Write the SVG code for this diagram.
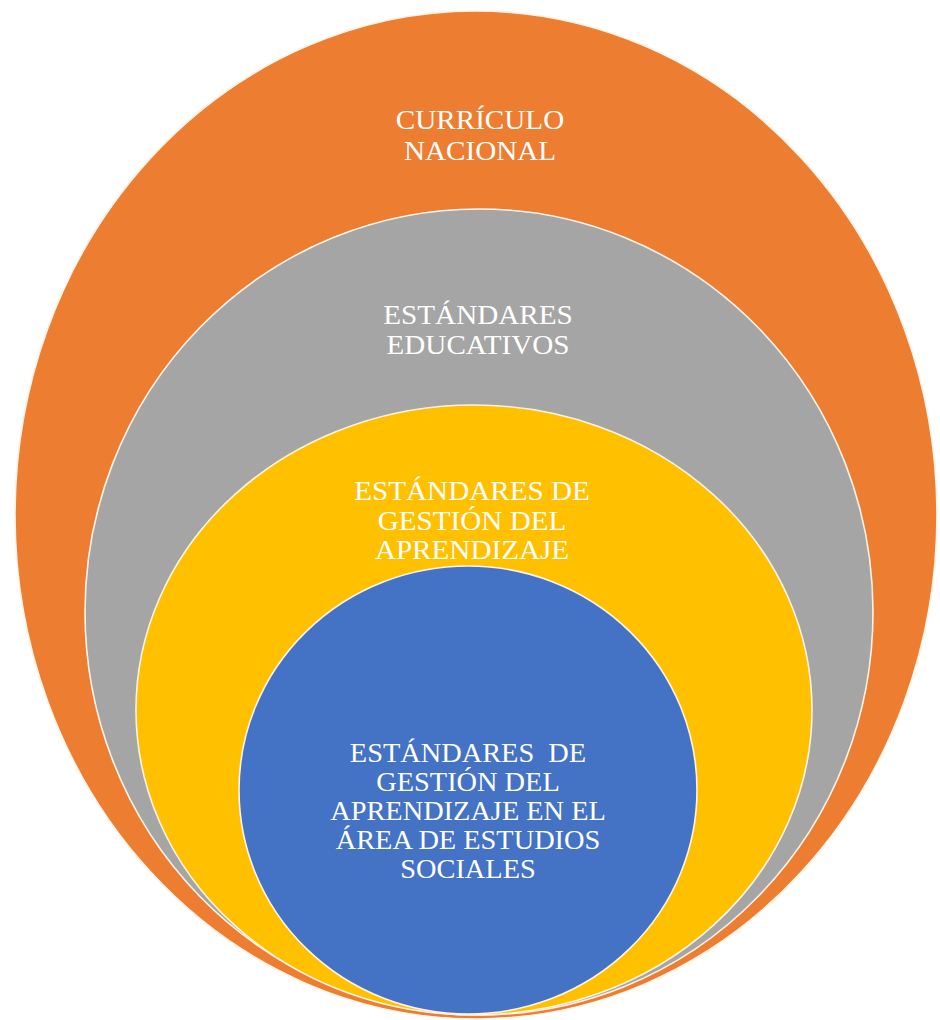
<svg xmlns="http://www.w3.org/2000/svg" width="940" height="1020" viewBox="0 0 940 1020">
<style>
.ring{stroke:#FFF3E6;stroke-width:1.6}
.lbl{font-family:"Liberation Serif","Times New Roman",serif;font-size:26.5px;fill:#FFFFFF;text-anchor:middle;white-space:pre}
</style>
<rect width="940" height="1020" fill="#FFFFFF"/>
<g id="curriculo">
<ellipse class="ring" cx="476" cy="515" rx="461" ry="504" fill="#ED7D31"/>
<g transform="translate(480 0) scale(1.1 1)"><text class="lbl" x="0" y="129">CURRÍCULO</text><text class="lbl" x="0" y="160">NACIONAL</text></g>
</g>
<g id="estandares-educativos">
<ellipse class="ring" cx="479" cy="612" rx="394" ry="403" fill="#A5A5A5"/>
<g transform="translate(478 0) scale(1.1 1)"><text class="lbl" x="0" y="324">ESTÁNDARES</text><text class="lbl" x="0" y="354">EDUCATIVOS</text></g>
</g>
<g id="gestion-aprendizaje">
<ellipse class="ring" cx="474" cy="710" rx="338" ry="305" fill="#FFC000"/>
<g transform="translate(472 0) scale(1.1 1)"><text class="lbl" x="0" y="500">ESTÁNDARES DE</text><text class="lbl" x="0" y="530">GESTIÓN DEL</text><text class="lbl" x="0" y="559">APRENDIZAJE</text></g>
</g>
<g id="estudios-sociales">
<ellipse class="ring" cx="468" cy="790" rx="229" ry="224" fill="#4472C4"/>
<g transform="translate(468 0) scale(1.07 1)"><text class="lbl" x="0" y="762">ESTÁNDARES  DE</text><text class="lbl" x="0" y="791">GESTIÓN DEL</text><text class="lbl" x="0" y="820">APRENDIZAJE EN EL</text><text class="lbl" x="0" y="849">ÁREA DE ESTUDIOS</text><text class="lbl" x="0" y="878">SOCIALES</text></g>
</g>
<g id="connectors"/>
</svg>
